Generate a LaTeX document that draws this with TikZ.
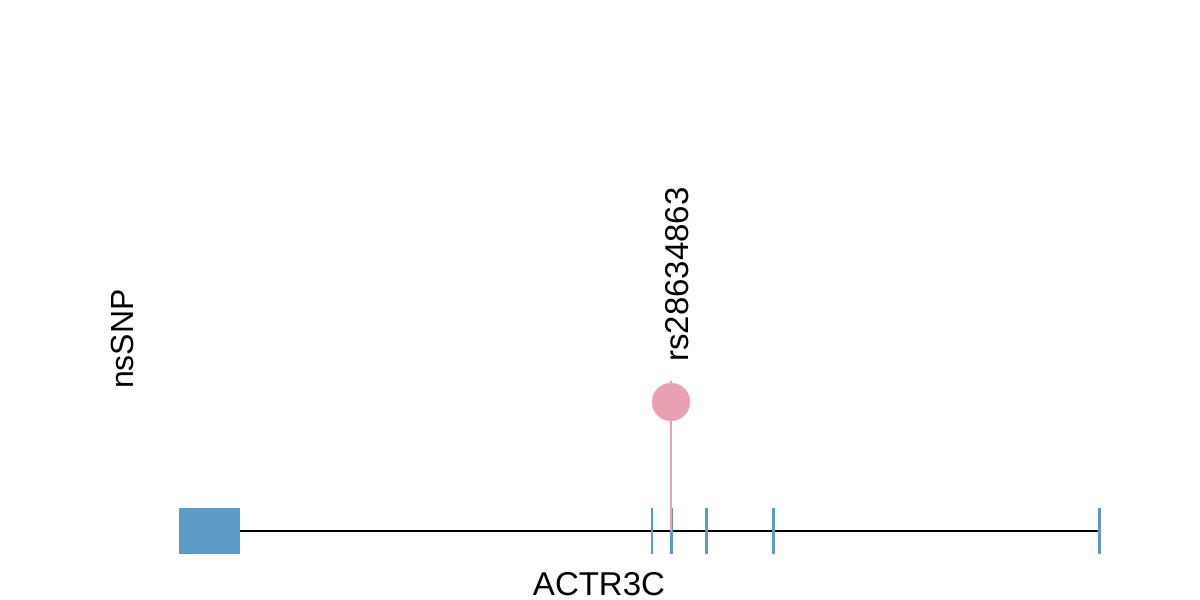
\documentclass[tikz,border=0pt]{standalone}
\usepackage{fontspec}
\setmainfont{Liberation Sans}
\usepackage{xcolor}
\usetikzlibrary{positioning}
\definecolor{exonblue}{HTML}{5D9AC6}
\definecolor{snppink}{HTML}{E9A1B1}

\begin{document}
\begin{tikzpicture}[
    x=1pt, y=-1pt,
    exonbox/.style={rectangle, fill=exonblue, draw=none, minimum width=61pt, minimum height=46pt, inner sep=0pt},
    exontick/.style={draw=exonblue, line width=#1},
    exontick/.default=2.5pt,
    snpdot/.style={circle, fill=snppink, draw=snppink!90!black!60, line width=0.5pt, minimum size=38pt, inner sep=0pt},
    snpstem/.style={draw=snppink, line width=2pt},
    bigtxt/.style={font=\fontsize{33}{38}\selectfont, inner sep=0pt}
]
\useasboundingbox (0,0) rectangle (1200,600);
% backbone of the gene
\coordinate (gstart) at (240,531);
\coordinate (gend) at (1099,531);
\draw[line width=2pt] (gstart) -- (gend);
\node[exonbox] (exon1) at (209.5,531) {};
\foreach \xx/\ww in {652/2.5pt, 671/3pt, 706.5/3.5pt, 773.5/2.5pt, 1099/3pt}
  \draw[exontick=\ww] (\xx,508) -- (\xx,554);
% the variant
\coordinate (stemtop) at (671,381);
\coordinate (stembot) at (671,531);
\draw[snpstem] (stemtop) -- (stembot);
\draw[gray!70, line width=1pt] (stemtop) -- ++(0,4);
\node[snpdot] (snp) at (671,402) {};
\node[bigtxt, rotate=90, anchor=west] (snplabel) at (677,362) {rs28634863};
% labels
\node[font=\fontsize{32}{36}\selectfont, inner sep=0pt, rotate=90] (track) at (122,339) {nsSNP};
\node[bigtxt] (gene) at (599,584) {ACTR3C};
\end{tikzpicture}
\end{document}
